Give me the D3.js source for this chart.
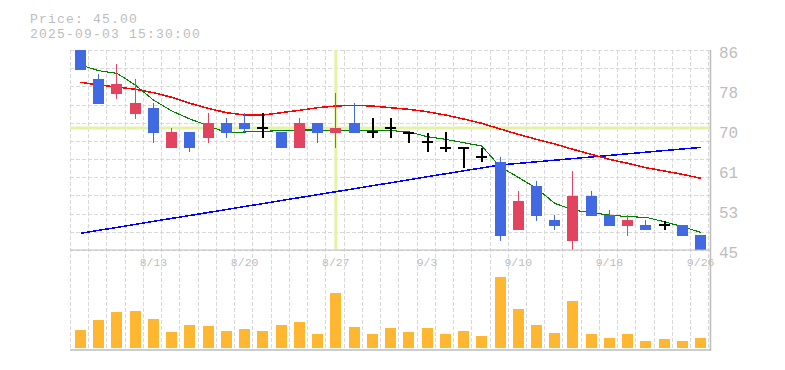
<!DOCTYPE html>
<html>
<head>
<meta charset="utf-8">
<script src="https://cdn.jsdelivr.net/npm/d3@7"></script>
<style>
  html, body { margin: 0; padding: 0; background: #fff; }
  svg { display: block; }
</style>
</head>
<body>
<svg id="chart" width="785" height="370"></svg>
<script>
// ---- data ----
const dates = ["8/6","8/7","8/8","8/12","8/13","8/14","8/15","8/18","8/19","8/20","8/21","8/22","8/25","8/26","8/27","8/28","8/29","9/1","9/2","9/3","9/4","9/5","9/8","9/9","9/10","9/11","9/12","9/16","9/17","9/18","9/19","9/22","9/24","9/25","9/26"];
const open  = [86.0,80.0,77.0,72.9,74.1,65.9,69.2,68.0,71.0,71.0,70.0,69.2,65.9,71.0,69.0,71.0,69.2,70.0,69.0,67.1,66.0,66.0,64.0,63.0,49.0,58.1,51.2,46.9,56.1,52.1,50.0,50.1,50.1,50.1,48.1];
const high  = [86.0,81.1,83.1,80.1,75.1,70.0,69.2,73.1,72.1,73.1,73.1,69.2,72.1,71.0,77.1,75.1,72.1,72.1,69.0,69.0,69.1,66.0,66.0,64.1,57.1,59.2,52.2,61.2,57.1,53.2,52.2,51.2,51.0,50.1,48.1];
const low   = [81.9,74.9,76.0,71.9,66.9,65.9,65.0,66.9,68.0,69.1,68.0,65.9,65.9,66.9,65.9,69.0,68.0,68.0,67.0,65.0,65.0,61.9,63.0,46.9,49.0,51.0,49.0,45.0,52.0,50.0,47.9,49.0,49.0,47.9,45.0];
const close = [81.9,74.9,79.1,75.2,69.0,69.2,65.9,71.0,69.0,69.8,70.0,65.9,71.0,69.0,70.0,69.0,69.2,70.0,69.0,67.1,66.0,66.0,64.0,47.9,55.0,52.0,50.0,56.1,52.0,50.0,51.2,49.0,50.1,47.9,45.0];
const volume = [17700,27700,35700,36700,28700,15700,22700,21700,16700,18700,16700,22700,25700,13700,54700,20700,13700,19700,15700,19700,13700,16700,11700,71000,38700,22700,14700,46700,13700,9700,13700,6700,8700,6700,9700];
const ma5  = [82.93,81.76,81.22,78.83,75.75,73.50,71.86,70.48,69.05,69.19,69.33,69.46,69.60,69.60,69.46,69.54,69.54,69.46,69.25,68.23,67.69,67.00,66.32,62.08,59.90,57.65,54.57,53.20,52.65,52.18,51.83,51.70,50.80,49.78,48.63];
const ma25 = [79.38,78.83,78.42,77.94,77.25,76.30,75.07,74.05,73.15,72.68,72.68,73.15,73.64,74.17,74.52,74.66,74.52,74.17,73.84,73.35,72.68,71.86,70.97,69.81,68.72,67.69,66.73,65.64,64.62,63.59,62.77,61.87,61.20,60.52,59.70];
const ma75 = [48.42,49.04,49.63,50.25,50.86,51.48,52.07,52.69,53.30,53.92,54.51,55.13,55.74,56.34,56.95,57.57,58.18,58.78,59.39,60.01,60.62,61.22,61.83,62.43,62.75,63.08,63.41,63.74,64.07,64.39,64.72,65.05,65.38,65.71,66.03];
const yTickValues = [45, 53.2, 61.4, 69.6, 77.8, 86];
const yTickLabels = ["45","53","61","70","78","86"];
const xTickLabels = ["8/13","8/20","8/27","9/3","9/10","9/18","9/26"];
const titleLines = ["Price: 45.00", "2025-09-03 15:30:00"];
const crossIndex = 14;

// ---- layout ----
const svg = d3.select("#chart");
const L = 70, R = 708.4, T = 50, B = 250;
const n = dates.length;
const xg = d3.scaleLinear().domain([0, n]).range([L, R]);
const cx = i => xg(i) + 10.5;
const y = d3.scaleLinear().domain([45, 86]).range([B, T]);
const yv = d3.scaleLinear().domain([0, d3.max(volume)]).range([348, 277]);
const bodyW = 11;
const gridColor = "#d8d8d8";
const axisColor = "#bdbdbd";
const textColor = "#bdbdbd";
const font = "'Liberation Mono', 'DejaVu Sans Mono', monospace";

// title
svg.selectAll("text.title").data(titleLines).enter().append("text")
  .attr("x", 30).attr("y", (d, i) => 22.5 + i * 15)
  .attr("font-family", font).attr("font-size", 13).attr("letter-spacing", 1.2)
  .attr("fill", textColor).text(d => d);

// horizontal grid (main)
const hGrid = d3.range(12).map(k => 45 + k * (86 - 45) / 11);
svg.append("g").selectAll("line").data(hGrid).enter().append("line")
  .attr("x1", L).attr("x2", 710)
  .attr("y1", d => Math.round(y(d)) + 0.5).attr("y2", d => Math.round(y(d)) + 0.5)
  .attr("stroke", gridColor).attr("stroke-width", 1).attr("stroke-dasharray", "4,2");

// vertical grid
svg.append("g").selectAll("line").data(d3.range(n + 1)).enter().append("line")
  .attr("x1", d => Math.round(xg(d)) + 0.5).attr("x2", d => Math.round(xg(d)) + 0.5)
  .attr("y1", T).attr("y2", 349)
  .attr("stroke", gridColor).attr("stroke-width", 1).attr("stroke-dasharray", "4,2");

// crosshair
const crossColor = "#e3f3a6";
svg.append("line").attr("x1", L).attr("x2", 710)
  .attr("y1", y(close[crossIndex])).attr("y2", y(close[crossIndex]))
  .attr("stroke", crossColor).attr("stroke-width", 3);
svg.append("line").attr("x1", cx(crossIndex)).attr("x2", cx(crossIndex))
  .attr("y1", T).attr("y2", B - 1)
  .attr("stroke", crossColor).attr("stroke-width", 3);

// moving averages
const line = d3.line().x((d, i) => cx(i)).y(d => y(d));
[[ma75, "#0000ff", 1.5], [ma25, "#ff0000", 1.5], [ma5, "#008000", 1.1]].forEach(([arr, col, w]) => {
  svg.append("path").datum(arr).attr("d", line)
    .attr("fill", "none").attr("stroke", col).attr("stroke-width", w)
    .attr("shape-rendering", "crispEdges");
});

// candles
const upColor = "#e2435f", downColor = "#4169e1";
const cg = svg.append("g");
dates.forEach((d, i) => {
  const o = open[i], c = close[i], h = high[i], l = low[i];
  const x0 = Math.round(xg(i)) + 5;
  const mid = x0 + bodyW / 2;
  if (o === c) {
    cg.append("line").attr("x1", mid).attr("x2", mid).attr("y1", y(h)).attr("y2", y(l))
      .attr("stroke", "#000").attr("stroke-width", 2).attr("shape-rendering", "crispEdges");
    cg.append("line").attr("x1", x0).attr("x2", x0 + bodyW).attr("y1", y(c)).attr("y2", y(c))
      .attr("stroke", "#000").attr("stroke-width", 2).attr("shape-rendering", "crispEdges");
  } else {
    const col = c > o ? upColor : downColor;
    cg.append("line").attr("x1", mid).attr("x2", mid).attr("y1", y(h)).attr("y2", y(l))
      .attr("stroke", col).attr("stroke-width", 1).attr("shape-rendering", "crispEdges");
    cg.append("rect").attr("x", x0).attr("width", bodyW)
      .attr("y", y(Math.max(o, c))).attr("height", Math.max(1, y(Math.min(o, c)) - y(Math.max(o, c))))
      .attr("fill", col).attr("shape-rendering", "crispEdges");
  }
});

// volume bars
svg.append("g").selectAll("rect").data(volume).enter().append("rect")
  .attr("x", (d, i) => Math.round(xg(i)) + 5).attr("width", bodyW)
  .attr("y", d => yv(d)).attr("height", d => yv(0) - yv(d))
  .attr("fill", "#ffb732").attr("shape-rendering", "crispEdges");

// axis lines
svg.append("line").attr("x1", L).attr("x2", 711).attr("y1", 250).attr("y2", 250)
  .attr("stroke", axisColor).attr("stroke-width", 1.2);
svg.append("line").attr("x1", L).attr("x2", 711).attr("y1", 350).attr("y2", 350)
  .attr("stroke", axisColor).attr("stroke-width", 1.6);
svg.append("line").attr("x1", 710.5).attr("x2", 710.5).attr("y1", T).attr("y2", 351)
  .attr("stroke", axisColor).attr("stroke-width", 1.5);

// y labels
svg.append("g").selectAll("text").data(yTickValues).enter().append("text")
  .attr("x", 719).attr("y", d => y(d) + 8.3)
  .attr("font-family", font).attr("font-size", 16)
  .attr("fill", textColor).text((d, i) => yTickLabels[i]);

// x labels
svg.append("g").selectAll("text").data(xTickLabels).enter().append("text")
  .attr("x", d => cx(dates.indexOf(d))).attr("y", 265.5)
  .attr("text-anchor", "middle")
  .attr("font-family", font).attr("font-size", 11.5)
  .attr("fill", textColor).text(d => d);
</script>
</body>
</html>
